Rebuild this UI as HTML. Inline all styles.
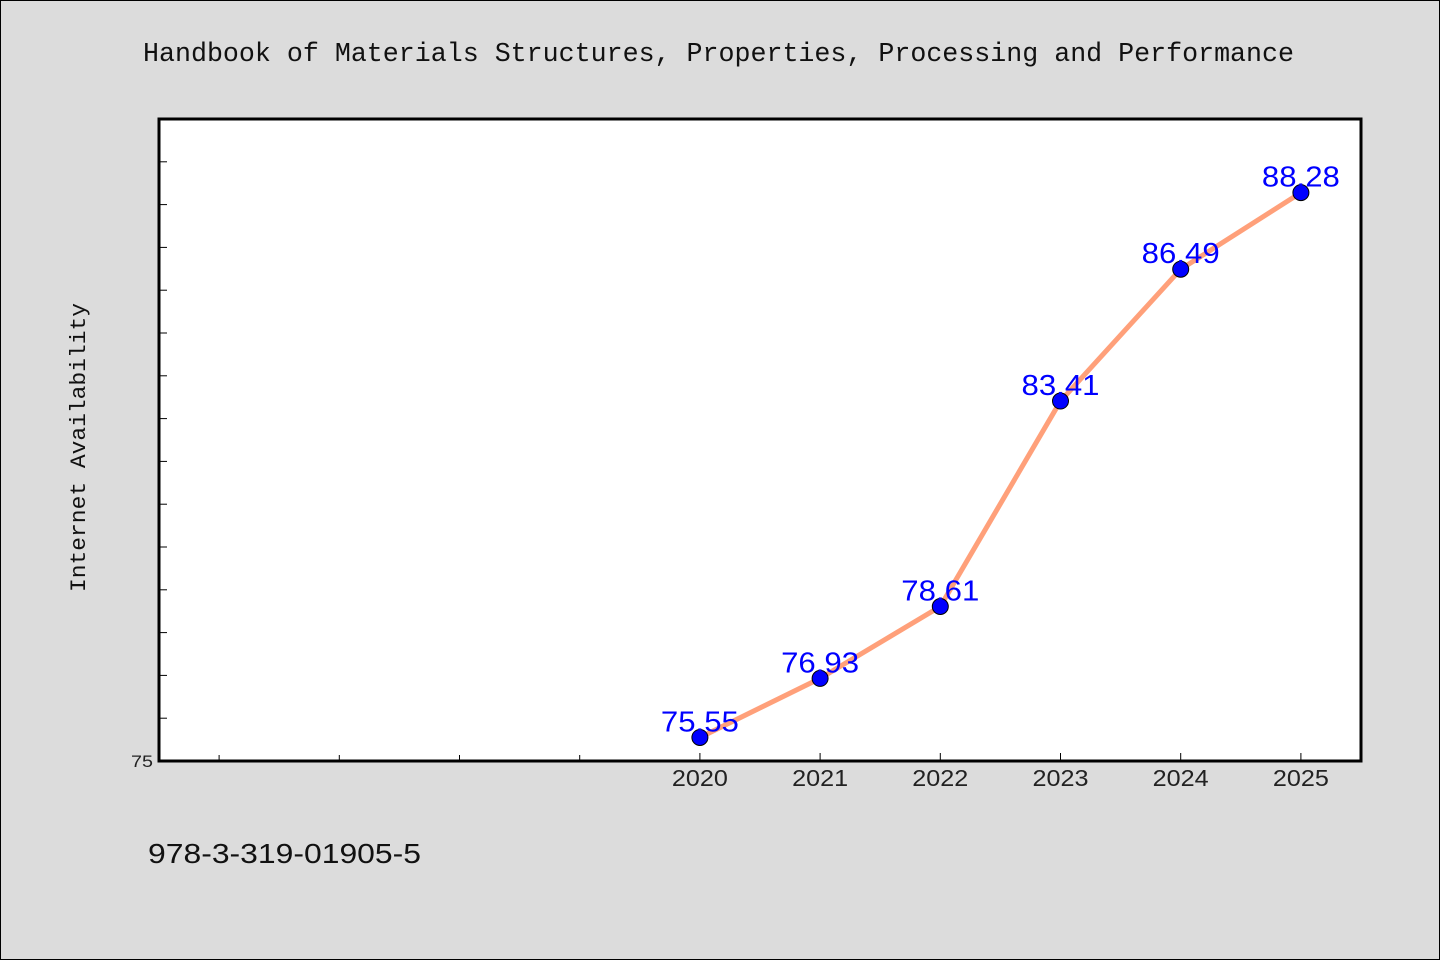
<!DOCTYPE html>
<html><head><meta charset="utf-8"><style>
html,body{margin:0;padding:0;background:#dcdcdc;}
svg{display:block;font-family:"WenQuanYi Zen Hei","Liberation Sans",sans-serif;}
</style></head><body>
<svg width="1440" height="960" viewBox="0 0 1440 960" id="chart">
<rect x="0.5" y="0.5" width="1439" height="959" fill="#dcdcdc" stroke="#000" stroke-width="1"/>
<text x="143" y="61" font-family="Liberation Mono, monospace" font-size="27" fill="#111" textLength="1151" lengthAdjust="spacingAndGlyphs">Handbook of Materials Structures, Properties, Processing and Performance</text>
<rect x="159" y="119" width="1202" height="642" fill="#fff" stroke="#000" stroke-width="3"/>
<text transform="translate(85,592) rotate(-90)" font-family="Liberation Mono, monospace" font-size="22" fill="#111" textLength="289" lengthAdjust="spacingAndGlyphs">Internet Availability</text>
<text x="148" y="863" font-size="28" fill="#111" textLength="273" lengthAdjust="spacingAndGlyphs">978-3-319-01905-5</text>
<g id="axes"></g>
<g id="series"></g>
</svg>
<script>
const years=[2020,2021,2022,2023,2024,2025];
const values=[75.55,76.93,78.61,83.41,86.49,88.28];
const labels=["75.55","76.93","78.61","83.41","86.49","88.28"];
const xMinorTicks=[2016,2017,2018,2019];
const yTicks=[75,76,77,78,79,80,81,82,83,84,85,86,87,88,89];
const yTickLabels=["75"];
const NS="http://www.w3.org/2000/svg";
const L=159,R=1361,T=119,B=761,xmin=2015.5,xmax=2025.5,ymin=75,ymax=90;
const X=v=>L+(v-xmin)/(xmax-xmin)*(R-L);
const Y=v=>B-(v-ymin)/(ymax-ymin)*(B-T);
function mk(tag,attrs,parent){const e=document.createElementNS(NS,tag);for(const k in attrs)e.setAttribute(k,attrs[k]);parent.appendChild(e);return e;}
const ax=document.getElementById('axes'),sr=document.getElementById('series');
yTicks.forEach(v=>{const t=mk('line',{x1:L,x2:L+8,y1:Y(v),y2:Y(v),stroke:'#000','stroke-width':1},ax);

});
yTickLabels.forEach(s=>{const t=mk('text',{x:L-6,y:Y(+s)+6,'text-anchor':'end','font-size':17,fill:'#222',textLength:22,lengthAdjust:'spacingAndGlyphs'},ax);t.textContent=s;

});
xMinorTicks.forEach(v=>{const t=mk('line',{x1:X(v),x2:X(v),y1:B,y2:B-6,stroke:'#000','stroke-width':1},ax);

});
years.forEach(v=>{const t=mk('line',{x1:X(v),x2:X(v),y1:B,y2:B-8,stroke:'#000','stroke-width':1},ax);


const l=mk('text',{x:X(v),y:B+25,'text-anchor':'middle','font-size':23,fill:'#222',textLength:56,lengthAdjust:'spacingAndGlyphs'},ax);l.textContent=v;

});
const line=mk('polyline',{points:years.map((y,i)=>X(y)+','+Y(values[i])).join(' '),fill:'none',stroke:'#ffa07a','stroke-width':5,'stroke-linejoin':'round'},sr);


years.forEach((y,i)=>{const c=mk('circle',{cx:X(y),cy:Y(values[i]),r:8,fill:'#0000ff',stroke:'#000','stroke-width':1},sr);

});
years.forEach((y,i)=>{const t=mk('text',{x:X(y),y:Y(values[i])-6,'text-anchor':'middle','font-size':29,fill:'#0000ff',textLength:78,lengthAdjust:'spacingAndGlyphs'},sr);t.textContent=labels[i];

});
</script>
</body></html>
